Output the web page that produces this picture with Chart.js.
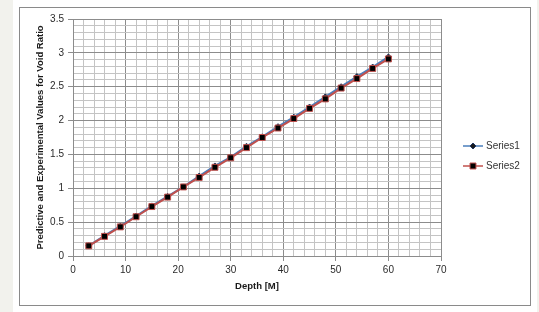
<!DOCTYPE html>
<html>
<head>
<meta charset="utf-8">
<script src="https://cdn.jsdelivr.net/npm/chart.js@4"></script>
<style>
  html, body { margin: 0; padding: 0; background: #fff; }
  #wrap { width: 539px; height: 312px; }
</style>
</head>
<body>
<div id="wrap"><canvas id="voidChart" width="539" height="312"></canvas></div>
<script>
// depth values (x) and void ratio for both series
const depths = [3, 6, 9, 12, 15, 18, 21, 24, 27, 30, 33, 36, 39, 42, 45, 48, 51, 54, 57, 60];
const series1 = [0.15, 0.30, 0.44, 0.59, 0.74, 0.88, 1.02, 1.18, 1.33, 1.46, 1.62, 1.76, 1.91, 2.05, 2.20, 2.35, 2.50, 2.65, 2.79, 2.94];
const series2 = [0.15, 0.29, 0.43, 0.58, 0.73, 0.87, 1.02, 1.16, 1.31, 1.45, 1.60, 1.75, 1.89, 2.03, 2.18, 2.32, 2.48, 2.62, 2.77, 2.91];
const seriesNames = ['Series1', 'Series2'];

const xMajorTicks = [0, 10, 20, 30, 40, 50, 60, 70];
const yMajorTicks = [0, 0.5, 1, 1.5, 2, 2.5, 3, 3.5];

const MAJOR = '#8c8c8c';
const MINOR = '#c4c4c4';
const FONT = 'Liberation Sans';

function isMajorX(v) { return xMajorTicks.indexOf(Math.round(v)) !== -1; }
function isMajorY(v) { return yMajorTicks.indexOf(Math.round(v * 10) / 10) !== -1; }

function points(ys) {
  return depths.map((d, i) => ({ x: d, y: ys[i] }));
}

// frame + grey strip like the original screenshot
const framePlugin = {
  id: 'frame',
  beforeDraw(chart) {
    const c = chart.ctx;
    c.save();
    c.fillStyle = '#ffffff';
    c.fillRect(0, 0, chart.width, chart.height);
    c.fillStyle = '#f2f2ed';
    c.fillRect(0, 0, 13, chart.height);
    c.fillRect(537, 0, 2, chart.height);
    c.strokeStyle = '#8a8a8a';
    c.lineWidth = 1;
    c.strokeRect(19.5, 7.5, 511, 298);
    c.restore();
  }
};

// excel style legend: line + marker + name
const legendPlugin = {
  id: 'xlLegend',
  afterDraw(chart) {
    const c = chart.ctx;
    const items = [
      { name: seriesNames[0], y: 146, line: '#4a7ebb', style: 'rectRot', fill: '#1a1a1a', stroke: '#1f3864', r: 3 },
      { name: seriesNames[1], y: 166, line: '#c0504d', style: 'rect', fill: '#000000', stroke: '#c0504d', r: 4.2 }
    ];
    c.save();
    items.forEach(it => {
      c.strokeStyle = it.line;
      c.lineWidth = 1.5;
      c.beginPath();
      c.moveTo(463, it.y);
      c.lineTo(483, it.y);
      c.stroke();
      c.fillStyle = it.fill;
      c.strokeStyle = it.stroke;
      c.lineWidth = 1;
      Chart.helpers.drawPoint(c, { pointStyle: it.style, radius: it.r, borderWidth: 1 }, 473, it.y);
      c.fillStyle = '#333333';
      c.font = '10px "' + FONT + '"';
      c.textBaseline = 'middle';
      c.fillText(it.name, 486, it.y);
    });
    c.restore();
  }
};

const ctx = document.getElementById('voidChart').getContext('2d');
new Chart(ctx, {
  type: 'line',
  data: {
    datasets: [
      {
        label: seriesNames[0],
        data: points(series1),
        borderColor: '#4a7ebb',
        borderWidth: 2,
        pointStyle: 'rectRot',
        pointRadius: 3,
        pointBackgroundColor: '#1a1a1a',
        pointBorderColor: '#1f3864',
        pointBorderWidth: 1,
        order: 1
      },
      {
        label: seriesNames[1],
        data: points(series2),
        borderColor: '#c0504d',
        borderWidth: 2,
        pointStyle: 'rect',
        pointRadius: 4.2,
        pointBackgroundColor: '#000000',
        pointBorderColor: '#c0504d',
        pointBorderWidth: 1,
        order: 0
      }
    ]
  },
  options: {
    responsive: false,
    animation: false,
    layout: { padding: { left: 20, top: 19, right: 98, bottom: 6 } },
    plugins: {
      legend: { display: false },
      tooltip: { enabled: false }
    },
    scales: {
      x: {
        type: 'linear',
        min: 0,
        max: 70,
        afterFit: s => { s.height = 50; },
        border: { color: MAJOR, width: 1 },
        grid: {
          color: c => isMajorX(c.tick.value) ? MAJOR : MINOR,
          tickColor: c => isMajorX(c.tick.value) ? MAJOR : 'rgba(0,0,0,0)',
          tickLength: 5
        },
        ticks: {
          stepSize: 2,
          autoSkip: false,
          maxRotation: 0,
          padding: 3,
          color: '#2b2b2b',
          font: { family: FONT, size: 10 },
          callback: v => isMajorX(v) ? String(Math.round(v)) : ''
        },
        title: {
          display: true,
          text: 'Depth [M]',
          color: '#1a1a1a',
          font: { family: FONT, size: 9.5, weight: 'bold' },
          padding: { top: 0, bottom: 14 }
        }
      },
      y: {
        min: 0,
        max: 3.5,
        afterFit: s => { s.width = 53; },
        border: { color: MAJOR, width: 1 },
        grid: {
          color: c => isMajorY(c.tick.value) ? MAJOR : MINOR,
          tickColor: c => isMajorY(c.tick.value) ? MAJOR : 'rgba(0,0,0,0)',
          tickLength: 5
        },
        ticks: {
          stepSize: 0.1,
          autoSkip: false,
          padding: 4,
          color: '#2b2b2b',
          font: { family: FONT, size: 10 },
          callback: v => isMajorY(v) ? String(Math.round(v * 10) / 10) : ''
        },
        title: {
          display: true,
          text: 'Predictive and Experimental Values for Void Ratio',
          color: '#1a1a1a',
          font: { family: FONT, size: 9.5, weight: 'bold' },
          padding: { top: 15, bottom: 0 }
        }
      }
    }
  },
  plugins: [framePlugin, legendPlugin]
});
</script>
</body>
</html>
